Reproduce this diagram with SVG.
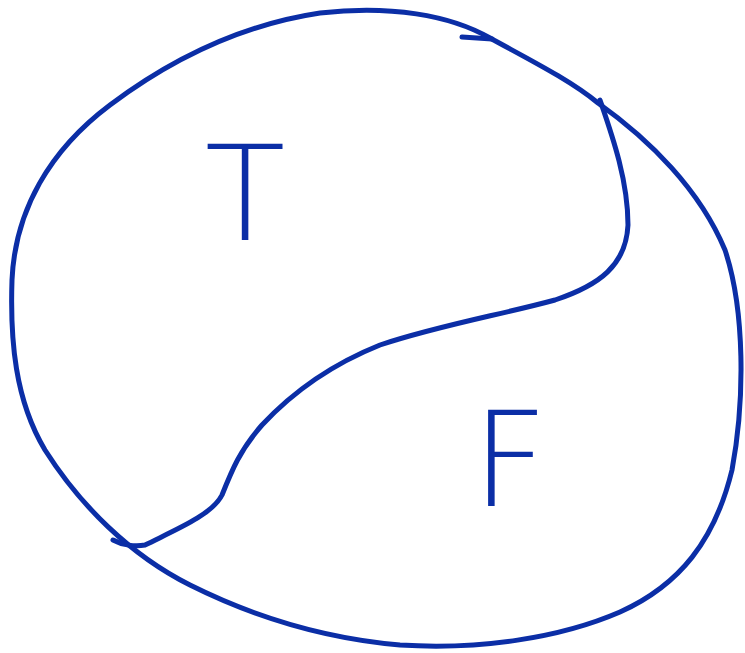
<svg xmlns="http://www.w3.org/2000/svg" width="745" height="653" viewBox="0 0 745 653">
<style>
.ink{fill:none;stroke:#0b2ea6;stroke-width:5;stroke-linecap:round;stroke-linejoin:round}
.lbl{font-family:"DejaVu Sans","Liberation Sans",sans-serif;font-weight:200;fill:#0b2ea6}
</style>
<rect width="745" height="653" fill="#fff"/>
<g id="outline">
<path class="ink" d="M598,103 C650,140 700,190 725,250 C745,310 745,400 732,470 C715,540 680,585 620,612 C560,638 480,650 400,645 C320,638 250,615 190,585 C130,555 80,505 45,450 C15,400 10,340 12,280 C15,210 50,150 110,105 C170,60 240,25 320,13 C390,5 450,15 490,38 C530,60 570,80 598,103"/>
<path class="ink" d="M462,37 L492,39"/>
</g>
<g id="divider">
<path class="ink" d="M600,100 C612,135 628,180 628,225 C626,265 600,285 555,300 C500,315 440,325 380,345 C330,365 290,395 262,425 C240,450 232,470 222,495 C212,515 175,530 145,545 C135,547 122,545 113,540"/>
</g>
<g id="node-T">
<text class="lbl" x="245" y="240" font-size="132" text-anchor="middle">T</text>
</g>
<g id="node-F">
<text class="lbl" x="472" y="506" font-size="132">F</text>
</g>
</svg>
